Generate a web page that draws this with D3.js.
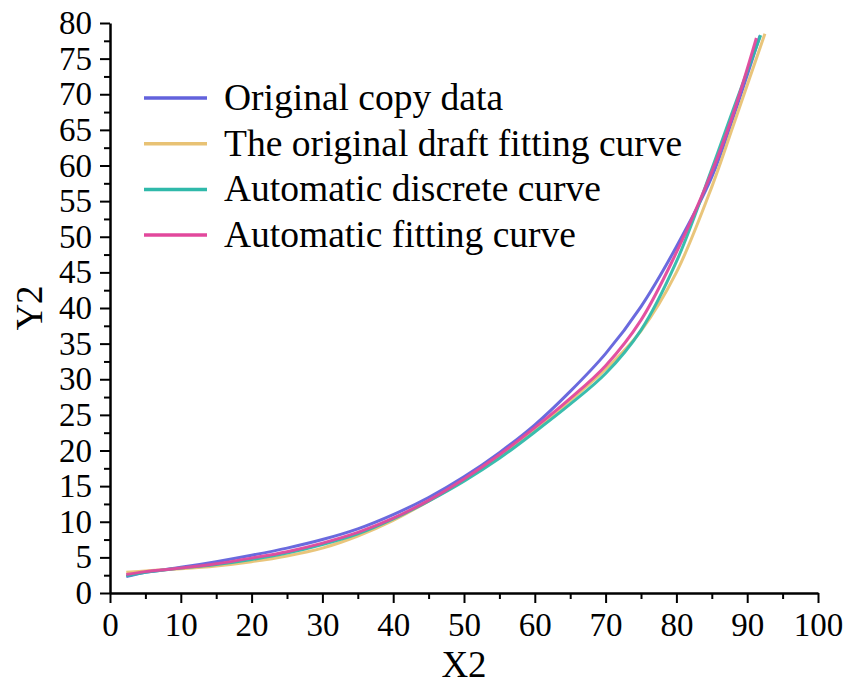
<!DOCTYPE html>
<html>
<head>
<meta charset="utf-8">
<script src="https://cdn.jsdelivr.net/npm/d3@7"></script>
<style>
  body { margin: 0; background: #fff; }
  text { font-family: "Liberation Serif", "Times New Roman", serif; fill: #000; }
</style>
</head>
<body>
<div id="chart"></div>
<script>
// shared x positions (X2), last point of each curve kept separately below
const xs = [2.3, 5, 10, 15, 20, 25, 30, 35, 40, 45, 50, 55, 60, 65, 70, 75, 80, 85, 88];

const originalCopy  = [2.3, 2.9, 3.6, 4.4, 5.3, 6.3, 7.5, 9.0, 11.0, 13.4, 16.3, 19.7, 23.6, 28.3, 33.6, 40.2, 48.6, 58.4, 66.7];
const draftFitting  = [2.9, 3.1, 3.4, 3.8, 4.4, 5.2, 6.3, 8.0, 10.2, 12.9, 15.9, 19.3, 23.0, 27.0, 31.4, 36.8, 45.0, 57.0, 65.5];
const autoDiscrete  = [2.4, 2.9, 3.5, 4.0, 4.7, 5.6, 6.8, 8.3, 10.4, 12.9, 15.7, 18.9, 22.6, 26.5, 30.8, 36.9, 46.5, 59.5, 67.8];
const autoFitting   = [2.6, 3.0, 3.5, 4.1, 4.9, 5.8, 7.0, 8.5, 10.5, 13.0, 16.0, 19.4, 23.2, 27.3, 31.9, 38.3, 47.8, 59.1, 67.2];

const endX = [91.8, 92.5, 91.9, 91.3];
const endY = [78.2, 78.5, 78.3, 77.9];

const seriesNames = ["Original copy data", "The original draft fitting curve", "Automatic discrete curve", "Automatic fitting curve"];
const seriesColors = ["#6262dc", "#e8c274", "#2fb9aa", "#e2489c"];

const xTicks = [0, 10, 20, 30, 40, 50, 60, 70, 80, 90, 100];
const yTicks = [0, 5, 10, 15, 20, 25, 30, 35, 40, 45, 50, 55, 60, 65, 70, 75, 80];

const W = 851, H = 693;
const margin = {top: 23, right: 33, bottom: 100, left: 110};
const width = W - margin.left - margin.right,
      height = H - margin.top - margin.bottom;

const svg = d3.select("#chart").append("svg")
    .attr("width", W)
    .attr("height", H);

const g = svg.append("g")
    .attr("transform", `translate(${margin.left},${margin.top})`);

const x = d3.scaleLinear().domain([0, 100]).range([0, width]);
const y = d3.scaleLinear().domain([0, 80]).range([height, 0]);

const tickFont = 33, labelFont = 37;

// minor ticks
g.append("g")
    .attr("transform", `translate(0,${height})`)
    .call(d3.axisBottom(x).tickValues(d3.range(5, 100, 10)).tickSize(6).tickFormat(""))
    .call(a => a.select(".domain").remove())
    .call(a => a.selectAll("line").attr("stroke-width", 2));
g.append("g")
    .call(d3.axisLeft(y).tickValues(d3.range(2.5, 80, 5)).tickSize(6).tickFormat(""))
    .call(a => a.select(".domain").remove())
    .call(a => a.selectAll("line").attr("stroke-width", 2));

// major axes
const xAxis = g.append("g")
    .attr("transform", `translate(0,${height})`)
    .call(d3.axisBottom(x).tickValues(xTicks).tickSize(10).tickSizeOuter(0).tickPadding(10));
const yAxis = g.append("g")
    .call(d3.axisLeft(y).tickValues(yTicks).tickSize(10).tickSizeOuter(0).tickPadding(8));

[xAxis, yAxis].forEach(a => {
  a.select(".domain").attr("stroke-width", 2.5);
  a.selectAll("line").attr("stroke-width", 2);
  a.selectAll("text")
    .style("font-family", '"Liberation Serif", "Times New Roman", serif')
    .style("font-size", tickFont + "px")
    .attr("fill", "#000");
});

// axis titles
svg.append("text")
    .attr("x", margin.left + x(50))
    .attr("y", 677)
    .attr("text-anchor", "middle")
    .style("font-size", labelFont + "px")
    .text("X2");

svg.append("text")
    .attr("transform", `translate(42,${margin.top + y(40)}) rotate(-90)`)
    .attr("text-anchor", "middle")
    .style("font-size", labelFont + "px")
    .text("Y2");

// curves
const allSeries = [originalCopy, draftFitting, autoDiscrete, autoFitting];
const line = d3.line()
    .x(d => x(d[0]))
    .y(d => y(d[1]))
    .curve(d3.curveCatmullRom.alpha(0.5));

allSeries.forEach((vals, i) => {
  const pts = xs.map((xv, j) => [xv, vals[j]]);
  pts.push([endX[i], endY[i]]);
  g.append("path")
      .datum(pts)
      .attr("fill", "none")
      .attr("stroke", seriesColors[i])
      .attr("stroke-width", 3)
      .attr("stroke-opacity", 0.95)
      .attr("d", line);
});

// legend
const legend = svg.append("g").attr("transform", "translate(144,98)");
seriesNames.forEach((name, i) => {
  const row = legend.append("g").attr("transform", `translate(0,${i * 45.7})`);
  row.append("line")
      .attr("x1", 0).attr("x2", 63)
      .attr("stroke", seriesColors[i])
      .attr("stroke-width", 3.5);
  row.append("text")
      .attr("x", 80)
      .attr("y", 12)
      .style("font-size", "37.5px")
      .text(name);
});
</script>
</body>
</html>
